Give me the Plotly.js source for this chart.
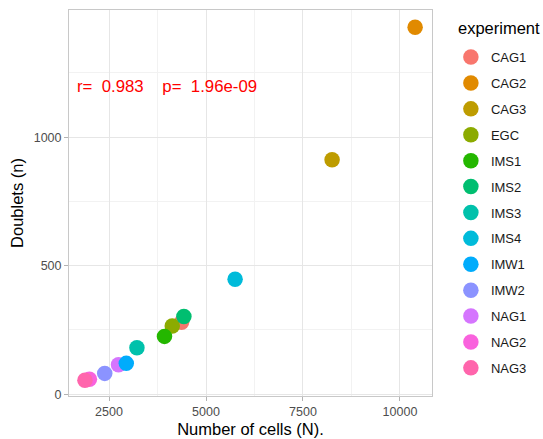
<!DOCTYPE html>
<html>
<head>
<meta charset="utf-8">
<script src="https://cdn.plot.ly/plotly-3.0.1.min.js"></script>
<style>
  html, body { margin: 0; padding: 0; background: #ffffff; }
  #chart { width: 543px; height: 439px; }
</style>
</head>
<body>
<div id="chart"></div>
<script>
// Cell counts vs detected doublets per experiment
const experiments = ["CAG1", "CAG2", "CAG3", "EGC", "IMS1", "IMS2", "IMS3", "IMS4", "IMW1", "IMW2", "NAG1", "NAG2", "NAG3"];
const cells =       [4370, 10390, 8250, 4130, 3930, 4430, 3220, 5750, 2945, 2390, 2745, 1995, 1880];
const doublets =    [280,  1428,  912,  265,  225,  302,  181,  447,  120,  81,   115,  58,   54];
const colors =      ["#F8766D", "#E18A00", "#BE9C00", "#8CAB00", "#24B700", "#00BE70", "#00C1AB",
                     "#00BBDA", "#00ACFC", "#8B93FF", "#D575FE", "#F962DD", "#FF65AC"];

// Statistics shown in the panel
const statLabel = "r=\u00a0\u00a00.983\u00a0\u00a0\u00a0\u00a0p=\u00a0\u00a01.96e-09";
const statPos = [3990, 1197];
const legendTitle = "experiment";

// Drawing order (later traces sit on top)
const drawOrder = [0, 1, 2, 3, 4, 5, 6, 7, 10, 8, 9, 11, 12];

const traces = drawOrder.map(i => ({
  type: "scatter",
  mode: "markers",
  name: experiments[i],
  legendgroup: experiments[i],
  legendrank: i + 1,
  x: [cells[i]],
  y: [doublets[i]],
  marker: { color: colors[i], size: 15.5, line: { width: 0 } },
  hoverinfo: "x+y+name"
}));

const font = "Liberation Sans, Arial, Helvetica, sans-serif";

const layout = {
  width: 543,
  height: 439,
  paper_bgcolor: "#ffffff",
  plot_bgcolor: "#ffffff",
  margin: { l: 69, r: 111, t: 10, b: 43, pad: 0 },
  font: { family: font, color: "#000000" },
  showlegend: true,
  legend: {
    x: 1.052, xanchor: "left", xref: "paper",
    y: 0.9168, yanchor: "top", yref: "paper",
    traceorder: "grouped",
    tracegroupgap: 6,
    font: { family: font, size: 13, color: "#1A1A1A" },
    bgcolor: "rgba(0,0,0,0)",
    borderwidth: 0
  },
  xaxis: {
    range: [1469, 10825],
    tickvals: [2500, 5000, 7500, 10000],
    ticktext: ["2500", "5000", "7500", "10000"],
    ticks: "outside", ticklen: 4, tickwidth: 1, tickcolor: "#B3B3B3",
    tickfont: { family: font, size: 12.5, color: "#4D4D4D" },
    showgrid: true, gridcolor: "#E6E6E6", gridwidth: 1,
    minor: { tickvals: [3750, 6250, 8750], showgrid: true, gridcolor: "#F2F2F2", gridwidth: 1, ticks: "" },
    zeroline: false,
    showline: true, mirror: true, linecolor: "#C8C8C8", linewidth: 1,
    title: { text: "Number of cells (N).", font: { family: font, size: 16.5, color: "#000000" }, standoff: 5 }
  },
  yaxis: {
    range: [-7, 1495],
    tickvals: [0, 500, 1000],
    ticktext: ["0", "500", "1000"],
    ticks: "outside", ticklen: 4, tickwidth: 1, tickcolor: "#B3B3B3",
    tickfont: { family: font, size: 12.5, color: "#4D4D4D" },
    showgrid: true, gridcolor: "#E6E6E6", gridwidth: 1,
    minor: { tickvals: [250, 750, 1250], showgrid: true, gridcolor: "#F2F2F2", gridwidth: 1, ticks: "" },
    zeroline: false,
    showline: true, mirror: true, linecolor: "#C8C8C8", linewidth: 1,
    title: { text: "Doublets (n)", font: { family: font, size: 16.5, color: "#000000" }, standoff: 5 }
  },
  annotations: [{
    x: statPos[0], y: statPos[1], xref: "x", yref: "y",
    text: statLabel, showarrow: false,
    xanchor: "center", yanchor: "middle",
    font: { family: font, size: 16.8, color: "#FF0000" }
  }, {
    x: 1.0661, y: 0.9544, xref: "paper", yref: "paper",
    text: legendTitle, showarrow: false,
    xanchor: "left", yanchor: "middle",
    font: { family: font, size: 16.5, color: "#000000" }
  }]
};

Plotly.newPlot("chart", traces, layout, { displayModeBar: false, staticPlot: true });
</script>
</body>
</html>
